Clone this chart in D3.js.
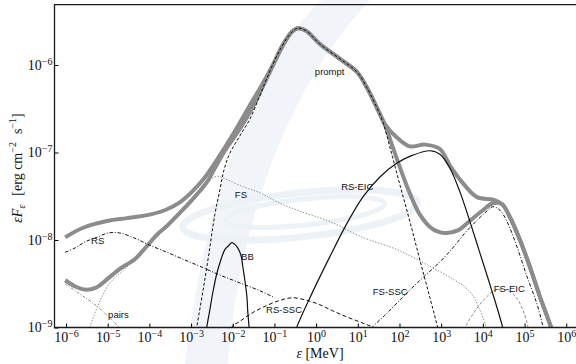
<!DOCTYPE html>
<html>
<head>
<meta charset="utf-8">
<script src="https://cdn.jsdelivr.net/npm/d3@7"></script>
<style>
  body { margin: 0; background: #fff; }
  svg { display: block; }
  .lbl { font-family: "Liberation Sans", Arial, sans-serif; font-size: 9.5px; fill: #111; }
  .tick text { font-family: "Liberation Serif", "Times New Roman", serif; font-size: 14px; fill: #111; }
</style>
</head>
<body>
<svg id="chart" width="576" height="364"></svg>
<script>
// every series: [log10(E / MeV), log10(eps F_eps / erg cm^-2 s^-1)]
var totalUpper = [[-6.02,-7.97],[-5.59,-7.86],[-4.99,-7.78],[-4.54,-7.75],[-3.99,-7.71],[-3.63,-7.66],
  [-3.27,-7.57],[-2.98,-7.45],[-2.71,-7.31],[-2.43,-7.12],[-2.12,-6.89],[-1.83,-6.66],[-1.54,-6.42],
  [-1.30,-6.23],[-1.06,-6.02],[-0.80,-5.77],[-0.58,-5.62],[-0.44,-5.58],[-0.24,-5.61],[0.09,-5.76],
  [0.57,-5.93],[0.98,-6.08],[1.22,-6.26],[1.46,-6.49],[1.67,-6.69],[1.94,-6.83],[2.25,-6.93],
  [2.61,-6.91],[2.97,-6.96],[3.21,-7.15],[3.52,-7.35],[3.86,-7.51],[4.24,-7.54],[4.46,-7.59],
  [4.65,-7.74],[4.89,-8.00],[5.13,-8.31],[5.37,-8.65],[5.63,-8.99],[5.75,-9.17]];

var totalLower = [[-6.02,-8.46],[-5.74,-8.54],[-5.50,-8.57],[-5.26,-8.54],[-5.02,-8.45],[-4.71,-8.33],
  [-4.35,-8.22],[-4.06,-8.07],[-3.82,-7.94],[-3.58,-7.84],[-3.27,-7.69],[-3.03,-7.57],[-2.79,-7.44],
  [-2.62,-7.34],[-2.43,-7.18],[-2.19,-6.98],[-1.90,-6.78],[-1.59,-6.54],[-1.30,-6.27],[-1.06,-6.03],
  [-0.80,-5.78],[-0.58,-5.62],[-0.44,-5.58],[-0.24,-5.61],[0.09,-5.76],[0.57,-5.93],[0.98,-6.08],
  [1.22,-6.26],[1.46,-6.49],[1.67,-6.71],[1.84,-6.94],[2.01,-7.17],[2.25,-7.47],[2.49,-7.71],
  [2.78,-7.87],[3.09,-7.92],[3.40,-7.89],[3.69,-7.78],[4.00,-7.66],[4.24,-7.58],[4.46,-7.59],
  [4.65,-7.74],[4.89,-8.00],[5.13,-8.31],[5.37,-8.65],[5.63,-8.99],[5.75,-9.17]];

var prompt = [[-2.92,-9.20],[-2.86,-8.99],[-2.71,-8.57],[-2.57,-8.15],[-2.43,-7.71],[-2.31,-7.43],
  [-2.21,-7.20],[-2.07,-7.01],[-1.83,-6.81],[-1.59,-6.62],[-1.35,-6.35],[-1.11,-6.07],[-0.87,-5.83],
  [-0.63,-5.65],[-0.44,-5.58],[-0.24,-5.61],[0.09,-5.76],[0.57,-5.93],[0.98,-6.08],[1.22,-6.26],
  [1.46,-6.49],[1.60,-6.65],[1.77,-6.94],[2.01,-7.37],[2.25,-7.79],[2.49,-8.23],[2.73,-8.66],
  [2.92,-9.01],[3.00,-9.20]];

var rs = [[-6.02,-8.14],[-5.78,-8.09],[-5.54,-8.02],[-5.26,-7.97],[-4.99,-7.92],[-4.71,-7.92],
  [-4.30,-7.99],[-3.99,-8.06],[-3.58,-8.14],[-3.19,-8.22],[-2.79,-8.30],[-2.31,-8.40],[-1.83,-8.49],
  [-1.35,-8.58],[-0.99,-8.66]];

var fs = [[-5.50,-9.20],[-5.42,-8.99],[-5.30,-8.83],[-5.18,-8.69],[-4.94,-8.49],[-4.54,-8.31],
  [-4.23,-8.15],[-3.75,-7.93],[-3.27,-7.71],[-2.91,-7.52],[-2.67,-7.38],[-2.50,-7.30],[-2.38,-7.27],
  [-2.24,-7.29],[-1.76,-7.39],[-1.35,-7.46],[-0.87,-7.58],[-0.39,-7.67],[0.33,-7.79],[1.12,-7.97],
  [1.94,-8.11],[2.73,-8.30],[3.33,-8.46],[3.69,-8.59],[3.90,-8.77],[4.07,-8.99],[4.12,-9.20]];

var bb = [[-2.66,-9.20],[-2.62,-8.99],[-2.55,-8.80],[-2.47,-8.58],[-2.38,-8.38],[-2.28,-8.22],
  [-2.19,-8.11],[-2.09,-8.06],[-2.02,-8.03],[-1.95,-8.05],[-1.88,-8.09],[-1.80,-8.18],[-1.76,-8.30],
  [-1.71,-8.46],[-1.66,-8.65],[-1.64,-8.82],[-1.61,-8.99],[-1.60,-9.20]];

var rsSsc = [[-2.30,-9.20],[-2.02,-8.99],[-1.83,-8.93],[-1.59,-8.85],[-1.28,-8.77],[-0.87,-8.69],
  [-0.56,-8.66],[-0.22,-8.69],[0.09,-8.74],[0.40,-8.81],[0.74,-8.88],[1.12,-8.95],[1.41,-9.01],
  [1.70,-9.15]];

var rsEic = [[-0.60,-9.20],[-0.46,-8.99],[-0.08,-8.59],[0.33,-8.19],[0.74,-7.81],[1.12,-7.51],
  [1.53,-7.28],[1.94,-7.12],[2.32,-7.03],[2.73,-6.98],[2.97,-7.02],[3.21,-7.18],[3.45,-7.45],
  [3.69,-7.79],[3.93,-8.15],[4.17,-8.51],[4.48,-9.01],[4.55,-9.20]];

var fsSsc = [[1.07,-9.15],[1.36,-8.99],[1.65,-8.86],[1.94,-8.72],[2.25,-8.57],[2.56,-8.43],
  [2.97,-8.25],[3.28,-8.09],[3.57,-7.92],[3.83,-7.79],[4.05,-7.69],[4.24,-7.62],[4.41,-7.66],
  [4.58,-7.79],[4.82,-8.08],[5.06,-8.42],[5.29,-8.72],[5.44,-8.99],[5.52,-9.20]];

var fsEic = [[3.50,-9.20],[3.59,-8.99],[3.83,-8.80],[4.07,-8.66],[4.31,-8.57],[4.55,-8.57],
  [4.79,-8.65],[4.96,-8.80],[5.08,-8.99],[5.12,-9.20]];

var pairs = [[-6.02,-8.50],[-5.66,-8.62],[-5.30,-8.74],[-5.02,-8.86],[-4.75,-8.99],[-4.60,-9.15]];

// curve names and where they are written: [text, log10 E, log10 F]
var curveLabels = [["prompt",-0.03,-6.11],["RS",-5.40,-8.05],["pairs",-4.99,-8.89],["FS",-1.95,-7.52],
  ["BB",-1.80,-8.23],["RS-SSC",-1.20,-8.83],["RS-EIC",0.60,-7.43],["FS-SSC",1.36,-8.63],
  ["FS-EIC",4.26,-8.59]];

var energyExps = d3.range(-6, 7);
var fluxExps = d3.range(-9, -5);

var svg = d3.select("#chart");
var frame = {left: 54.5, top: 4.7, right: 585, bottom: 327.5};

var x = d3.scaleLog()
    .domain([Math.pow(10, -6.276), Math.pow(10, 6.45)])
    .range([frame.left, frame.right]);
var y = d3.scaleLog()
    .domain([1e-9, Math.pow(10, -5.311)])
    .range([frame.bottom, frame.top]);

// faint watermark shapes behind the plot
var wm = svg.append("g").attr("class", "watermark");
wm.append("path")
    .attr("d", "M322,0 C255,60 205,200 185,364 L228,364 C238,230 285,90 370,0 Z")
    .attr("fill", "#f1f5fa");
wm.append("ellipse")
    .attr("cx", 300).attr("cy", 215).attr("rx", 118).attr("ry", 22)
    .attr("transform", "rotate(-6,300,215)")
    .attr("fill", "none").attr("stroke", "#edf2f7").attr("stroke-width", 7);
wm.append("ellipse")
    .attr("cx", 305).attr("cy", 212).attr("rx", 80).attr("ry", 13)
    .attr("transform", "rotate(-6,305,212)")
    .attr("fill", "none").attr("stroke", "#edf2f7").attr("stroke-width", 5);

svg.append("clipPath").attr("id", "plotClip")
  .append("rect")
    .attr("x", frame.left).attr("y", frame.top)
    .attr("width", frame.right - frame.left).attr("height", frame.bottom - frame.top);

var line = d3.line()
    .x(function(d) { return x(Math.pow(10, d[0])); })
    .y(function(d) { return y(Math.pow(10, d[1])); })
    .curve(d3.curveCatmullRom.alpha(0.5));

var series = [
    {data: fs, color: "#8a8a8a", width: 1, dash: "1.4,1.6"},
    {data: pairs, color: "#8a8a8a", width: 1, dash: "3,1.5,1,1.5"},
    {data: fsEic, color: "#8a8a8a", width: 1, dash: "3,2"},
    {data: totalUpper, color: "#8c8c8c", width: 4, dash: null},
    {data: totalLower, color: "#8c8c8c", width: 4, dash: null},
    {data: rs, color: "#111", width: 1, dash: "3.5,1.8,1,1.8"},
    {data: bb, color: "#111", width: 1.2, dash: null},
    {data: rsSsc, color: "#111", width: 1, dash: "4,2.5"},
    {data: rsEic, color: "#111", width: 1.2, dash: null},
    {data: fsSsc, color: "#111", width: 1, dash: "3.5,1.8,1,1.8"},
    {data: prompt, color: "#111", width: 1, dash: "3,2"}
];

var plot = svg.append("g").attr("clip-path", "url(#plotClip)");
plot.selectAll("path.curve")
    .data(series)
    .enter().append("path")
    .attr("class", "curve")
    .attr("d", function(s) { return line(s.data); })
    .attr("fill", "none")
    .attr("stroke", function(s) { return s.color; })
    .attr("stroke-width", function(s) { return s.width; })
    .attr("stroke-dasharray", function(s) { return s.dash; })
    .attr("stroke-linejoin", "round");

svg.selectAll("text.lbl")
    .data(curveLabels)
    .enter().append("text")
    .attr("class", "lbl")
    .attr("x", function(d) { return x(Math.pow(10, d[1])); })
    .attr("y", function(d) { return y(Math.pow(10, d[2])); })
    .text(function(d) { return d[0]; });

function powerLabel(sel) {
    sel.selectAll(".tick text").each(function(d) {
        var t = d3.select(this);
        var e = Math.round(Math.log10(d));
        t.text(null);
        t.append("tspan").text("10");
        t.append("tspan").attr("dy", "-0.5em").style("font-size", "10px")
            .text(e < 0 ? "\u2212" + (-e) : String(e));
    });
}

var xAxis = d3.axisBottom(x)
    .tickValues(energyExps.map(function(e) { return Math.pow(10, e); }))
    .tickSize(-4)
    .tickPadding(5);
svg.append("g")
    .attr("transform", "translate(0," + frame.bottom + ")")
    .call(xAxis)
    .call(powerLabel)
    .call(function(g) { g.select(".domain").remove(); });

var yAxis = d3.axisLeft(y)
    .tickValues(fluxExps.map(function(e) { return Math.pow(10, e); }))
    .tickSize(-4)
    .tickPadding(2);
svg.append("g")
    .attr("transform", "translate(" + frame.left + ",0)")
    .call(yAxis)
    .call(powerLabel)
    .call(function(g) { g.select(".domain").remove(); });

// frame: left, top and bottom edges (right edge lies outside the picture)
svg.append("path")
    .attr("d", "M" + frame.right + "," + frame.top + "H" + frame.left + "V" + frame.bottom + "H" + frame.right)
    .attr("fill", "none").attr("stroke", "#1a1a1a").attr("stroke-width", 1.3);

// axis titles
var serif = "Liberation Serif, Times New Roman, serif";
var xt = svg.append("text")
    .attr("x", 320).attr("y", 358)
    .attr("text-anchor", "middle")
    .style("font-family", serif).style("font-size", "14px").style("fill", "#111");
xt.append("tspan").style("font-style", "italic").text("\u03b5");
xt.append("tspan").text(" [MeV]");

var yt = svg.append("text")
    .attr("transform", "translate(22,168) rotate(-90)")
    .attr("text-anchor", "middle")
    .style("font-family", serif).style("font-size", "14px").style("fill", "#111");
yt.append("tspan").style("font-style", "italic").text("\u03b5F");
yt.append("tspan").style("font-style", "italic").style("font-size", "10px").attr("dy", 3).text("\u03b5");
yt.append("tspan").attr("dy", -3).attr("dx", 9).text("[erg cm");
yt.append("tspan").style("font-size", "10px").attr("dy", -6).text("\u22122");
yt.append("tspan").attr("dy", 6).attr("dx", 8).text("s");
yt.append("tspan").style("font-size", "10px").attr("dy", -6).text("\u22121");
yt.append("tspan").attr("dy", 6).text("]");
</script>
</body>
</html>
